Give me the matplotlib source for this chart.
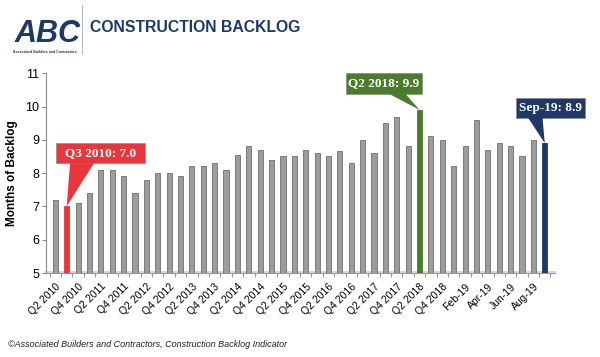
import numpy as np
import matplotlib.pyplot as plt
from matplotlib.patches import Rectangle, Polygon

plt.rcParams['font.family'] = ['Liberation Sans', 'DejaVu Sans']

# Construction backlog, months
quarters = ["Q2 2010", "Q3 2010", "Q4 2010",
            "Q1 2011", "Q2 2011", "Q3 2011", "Q4 2011",
            "Q1 2012", "Q2 2012", "Q3 2012", "Q4 2012",
            "Q1 2013", "Q2 2013", "Q3 2013", "Q4 2013",
            "Q1 2014", "Q2 2014", "Q3 2014", "Q4 2014",
            "Q1 2015", "Q2 2015", "Q3 2015", "Q4 2015",
            "Q1 2016", "Q2 2016", "Q3 2016", "Q4 2016",
            "Q1 2017", "Q2 2017", "Q3 2017", "Q4 2017",
            "Q1 2018", "Q2 2018", "Q3 2018", "Q4 2018"]
months = ["Jan-19", "Feb-19", "Mar-19", "Apr-19", "May-19",
          "Jun-19", "Jul-19", "Aug-19", "Sep-19"]
labels = quarters + months

backlog = [7.2, 7.0, 7.1, 7.4, 8.1, 8.1, 7.9, 7.4, 7.8, 8.0, 8.0, 7.9,
           8.2, 8.2, 8.3, 8.1, 8.55, 8.8, 8.7, 8.4, 8.5, 8.5, 8.7, 8.6,
           8.5, 8.65, 8.3, 9.0, 8.6, 9.5, 9.7, 8.8, 9.9, 9.1, 9.0,
           8.2, 8.8, 9.6, 8.7, 8.9, 8.8, 8.5, 9.0, 8.9]

highlights = {"Q3 2010": "#e8363d", "Q2 2018": "#4b7b2c", "Sep-19": "#1f3864"}

x = np.arange(len(labels))
colors = [highlights.get(l, "#9d9d9d") for l in labels]
edges = [highlights.get(l, "#6f6f6f") for l in labels]

fig = plt.figure(figsize=(6, 3.57), dpi=100)
ax = fig.add_axes([0.077, 0.235, 0.848, 0.56])

ax.bar(x, np.array(backlog) - 5, bottom=5, width=0.45,
       color=colors, edgecolor=edges, linewidth=0.6, zorder=3)

ax.set_ylim(5, 11)
ax.set_xlim(-0.8, 43.9)
ax.set_yticks(range(5, 12))
ax.tick_params(axis='y', labelsize=9, length=3, color='#888888', pad=2)
ax.set_xticks(x[::2])
ax.set_xticklabels(labels[::2], rotation=45, ha='right', rotation_mode='anchor',
                   fontsize=7.5)
ax.set_xticks(np.arange(-0.5, len(labels), 1), minor=True)
ax.tick_params(axis='x', which='major', length=0, pad=6)
ax.tick_params(axis='x', which='minor', length=3, color='#888888')
ax.set_ylabel("Months of Backlog", fontsize=8.5, fontweight='bold', labelpad=5)

for s in ['top', 'right']:
    ax.spines[s].set_visible(False)
ax.spines['left'].set_color('#888888')
ax.spines['bottom'].set_color('#999999')
ax.plot([-0.8, 43.9], [5.04, 5.04], color='#cfcfcf', lw=1.2, zorder=2, clip_on=False)


def callout(text, box, base, idx, color):
    x0, x1, y0, y1 = box
    ax.add_patch(Rectangle((x0, y0), x1 - x0, y1 - y0, facecolor=color,
                           edgecolor='#808080', lw=0.4, clip_on=False, zorder=5))
    ax.add_patch(Polygon([(base[0], y0 + 0.01), (base[1], y0 + 0.01),
                          (idx, backlog[idx])], closed=True, facecolor=color,
                         edgecolor='none', clip_on=False, zorder=5))
    ax.text((x0 + x1) / 2, (y0 + y1) / 2, text, color='white', fontsize=9.5,
            fontweight='bold', family='Liberation Serif', ha='center',
            va='center', zorder=6)


i_red = labels.index("Q3 2010")
i_green = labels.index("Q2 2018")
i_navy = labels.index("Sep-19")
callout(f"Q3 2010: {backlog[i_red]:.1f}", (0.1, 7.9, 8.29, 8.89), (1.3, 3.4), i_red, "#e8363d")
callout(f"Q2 2018: {backlog[i_green]:.1f}", (25.5, 32.2, 10.39, 11.0), (29.2, 30.7), i_green, "#4b7b2c")
callout(f"Sep-19: {backlog[i_navy]:.1f}", (40.5, 46.5, 9.67, 10.27), (41.5, 42.8), i_navy, "#1f3864")

# header
fig.text(0.025, 0.905, "ABC", fontsize=22, fontweight='bold', style='italic',
         color='#1f3864', ha='left', va='center')
fig.text(0.022, 0.853, "Associated Builders and Contractors", fontsize=2.6,
         fontweight='bold', color='#1f3864', ha='left', va='center')
fig.add_artist(plt.Line2D([0.137, 0.137], [0.85, 0.985], color='#bbbbbb', lw=0.8))
fig.text(0.15, 0.922, "CONSTRUCTION BACKLOG", fontsize=11.3, fontweight='bold',
         color='#1b3a6b', ha='left', va='center')

fig.text(0.013, 0.035, "\u00a9Associated Builders and Contractors, Construction Backlog Indicator",
         fontsize=6.5, style='italic', color='#222222', ha='left', va='center')

fig.savefig("out.png", dpi=100)
